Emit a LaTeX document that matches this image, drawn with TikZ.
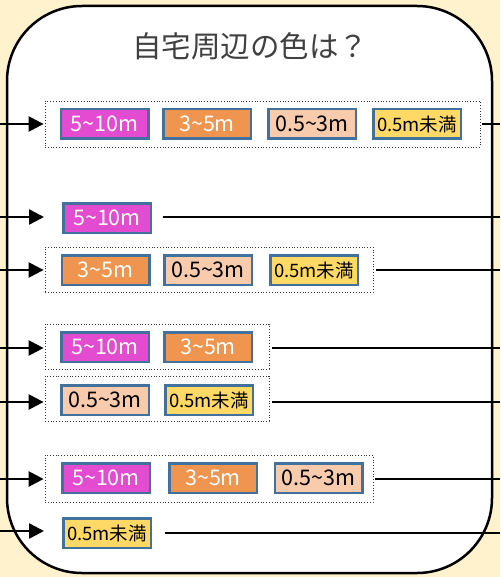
\documentclass[tikz,border=0pt]{standalone}
\usepackage{fontspec}
\setmainfont{Noto Sans CJK JP}
\usetikzlibrary{arrows.meta}
\definecolor{cream}{HTML}{FFF2CC}
\definecolor{bdr}{HTML}{41719C}
\definecolor{cmag}{HTML}{E34CD0}
\definecolor{corg}{HTML}{F09550}
\definecolor{cpch}{HTML}{F8CBAD}
\definecolor{cyel}{HTML}{FFD966}
\definecolor{ttl}{HTML}{404040}
\tikzset{
  cbox/.style={draw=bdr, line width=2.5pt, minimum width=87.5pt, minimum height=29.5pt, inner sep=0pt,
    font=\fontsize{21.5}{21.5}\selectfont},
  magbox/.style={cbox, fill=cmag, text=white},
  orgbox/.style={cbox, fill=corg, text=white},
  pchbox/.style={cbox, fill=cpch, text=black},
  yelbox/.style={cbox, fill=cyel, text=black, font=\fontsize{18.5}{18.5}\selectfont},
  grp/.style={draw=black!80, dotted, line width=0.8pt, inner sep=0pt},
  arr/.style={line width=2.5pt, -{Triangle[length=15pt,width=15pt]}},
  outl/.style={line width=2.5pt},
}
\begin{document}
\begin{tikzpicture}[x=1pt,y=-1pt]
\fill[cream] (0,0) rectangle (500,577);
\useasboundingbox (0,0) rectangle (500,577);
\draw[line width=2.5pt, fill=white, rounded corners=75pt] (7,6) rectangle (492,573);
\node[text=ttl, font=\fontsize{29.5}{29.5}\selectfont] (title) at (250,46) {自宅周辺の色は？};

% row 1
\node[grp, minimum width=435pt, minimum height=46pt] (g1) at (262.5,124) {};
\node[magbox] (b11) at (104.5,124) {5\~{}10m};
\node[orgbox] (b12) at (207,124) {3\~{}5m};
\node[pchbox] (b13) at (312,124) {0.5\~{}3m};
\node[yelbox] (b14) at (417,124) {0.5m未満};
% row 2
\node[magbox] (b21) at (107,218) {5\~{}10m};
% row 3
\node[grp, minimum width=328pt, minimum height=45pt] (g3) at (209,269.5) {};
\node[orgbox] (b31) at (105.5,270) {3\~{}5m};
\node[pchbox] (b32) at (208,270) {0.5\~{}3m};
\node[yelbox] (b33) at (314,270) {0.5m未満};
% row 4
\node[grp, minimum width=224pt, minimum height=45pt] (g4) at (157,346.5) {};
\node[magbox] (b41) at (105,347) {5\~{}10m};
\node[orgbox] (b42) at (208,347) {3\~{}5m};
% row 5
\node[grp, minimum width=224pt, minimum height=45pt] (g5) at (157,398.5) {};
\node[pchbox] (b51) at (105,400) {0.5\~{}3m};
\node[yelbox] (b52) at (209,400) {0.5m未満};
% row 6
\node[grp, minimum width=328pt, minimum height=47pt] (g6) at (209,478.5) {};
\node[magbox] (b61) at (106,478) {5\~{}10m};
\node[orgbox] (b62) at (213,478) {3\~{}5m};
\node[pchbox] (b63) at (318.5,478) {0.5\~{}3m};
% row 7
\node[yelbox] (b71) at (107,533) {0.5m未満};

% left in-coordinates and right out-coordinates
\coordinate (i1) at (0,124);   \coordinate (o1) at (500,124);
\coordinate (i2) at (0,217);   \coordinate (o2) at (500,217);
\coordinate (i3) at (0,270);   \coordinate (o3) at (500,270);
\coordinate (i4) at (0,348);   \coordinate (o4) at (500,348);
\coordinate (i5) at (0,402);   \coordinate (o5) at (500,402);
\coordinate (i6) at (0,479);   \coordinate (o6) at (500,479);
\coordinate (i7) at (0,531);   \coordinate (o7) at (500,533);

\draw[arr, shorten >=1pt] (i1) -- (i1 -| g1.west);
\draw[outl] ([xshift=2pt]g1.east |- o1) -- (o1);
\draw[arr, shorten >=18pt] (i2) -- (i2 -| b21.west);
\draw[outl] ([xshift=11pt]b21.east |- o2) -- (o2);
\draw[arr, shorten >=1pt] (i3) -- (i3 -| g3.west);
\draw[outl] ([xshift=3pt]g3.east |- o3) -- (o3);
\draw[arr, shorten >=1pt] (i4) -- (i4 -| g4.west);
\draw[outl] ([xshift=3pt]g4.east |- o4) -- (o4);
\draw[arr, shorten >=1pt] (i5) -- (i5 -| g5.west);
\draw[outl] ([xshift=3pt]g5.east |- o5) -- (o5);
\draw[arr, shorten >=1pt] (i6) -- (i6 -| g6.west);
\draw[outl] ([xshift=2pt]g6.east |- o6) -- (o6);
\draw[arr, shorten >=18pt] (i7) -- (i7 -| b71.west);
\draw[outl] ([xshift=13pt]b71.east |- o7) -- (o7);
\end{tikzpicture}
\end{document}
